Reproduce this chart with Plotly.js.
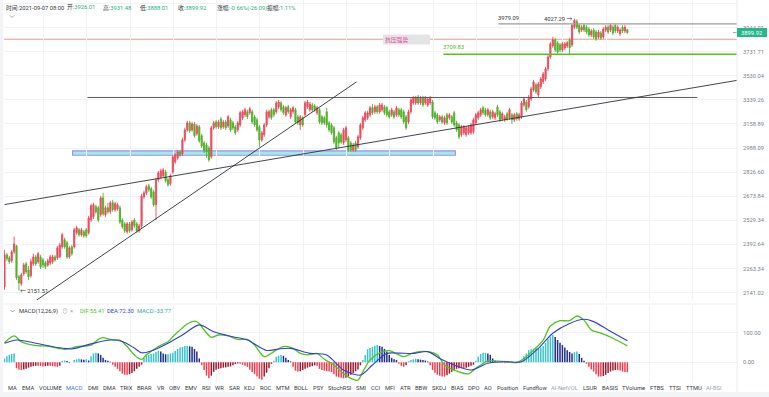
<!DOCTYPE html>
<html><head><meta charset="utf-8">
<script src="https://cdn.plot.ly/plotly-3.0.1.min.js"></script>
<style>html,body{margin:0;padding:0;background:#fff;overflow:hidden}#c{width:769px;height:397px}</style>
</head><body><div id="c"></div>
<script>
// ---------- DATA (4h candles) ----------
const open=[2170,2336,2320,2304,2352,2385,2221,2185,2236,2288,
2256,2226,2288,2325,2299,2325,2309,2293,2282,2293,
2299,2325,2320,2325,2379,2419,2402,2325,2379,2379,
2458,2475,2447,2464,2475,2458,2531,2550,2610,2604,
2562,2664,2562,2604,2580,2634,2592,2598,2604,2531,
2509,2464,2509,2475,2531,2509,2469,2498,2670,2695,
2740,2721,2701,2622,2778,2797,2803,2828,2778,2752,
2828,2895,2922,2962,2949,3045,3116,3167,3116,3159,
3088,3138,3074,3024,3010,2989,2929,3131,3174,3138,
3196,3138,3174,3145,3189,3167,3138,3116,3152,3204,
3226,3249,3241,3249,3211,3189,3138,3045,3081,3152,
3211,3264,3264,3249,3286,3316,3286,3226,3286,3211,
3249,3264,3211,3152,3204,3226,3286,3264,3301,3293,
3241,3264,3211,3204,3249,3167,3152,3131,3060,3095,
3081,3024,3045,3060,3024,2975,3024,2996,3060,3131,
3189,3204,3226,3279,3249,3286,3249,3264,3286,3279,
3249,3226,3249,3226,3264,3264,3249,3211,3174,3249,
3316,3316,3362,3316,3354,3316,3301,3316,3323,3241,
3226,3189,3211,3167,3226,3204,3211,3241,3167,3152,
3081,3095,3081,3095,3095,3102,3167,3204,3226,3279,
3264,3226,3249,3211,3204,3286,3249,3196,3189,3234,
3204,3226,3189,3234,3196,3211,3301,3323,3286,3346,
3417,3457,3378,3441,3481,3505,3587,3687,3782,3835,
3809,3791,3747,3765,3782,3835,3791,3949,4003,3967,
3923,3967,3949,3932,3879,3923,3905,3861,3896,3861,
3923,3949,3923,3949,3967,3914,3888,3949,3914,3926.01];
const high=[2363,2347,2331,2363,2436,2390,2231,2241,2293,2299,
2277,2315,2342,2336,2352,2336,2320,2304,2315,2336,
2336,2336,2385,2402,2458,2430,2413,2385,2390,2486,
2498,2486,2486,2475,2486,2556,2628,2634,2622,2616,
2676,2695,2616,2634,2646,2652,2640,2634,2616,2543,
2520,2520,2520,2531,2543,2520,2509,2689,2708,2746,
2752,2733,2714,2790,2835,2849,2855,2842,2790,2816,
2942,2955,2975,2975,3060,3131,3182,3182,3174,3174,
3159,3152,3088,3038,3024,3003,3145,3182,3189,3189,
3211,3189,3189,3226,3204,3182,3152,3182,3256,3264,
3279,3264,3286,3264,3226,3204,3152,3109,3167,3264,
3264,3279,3279,3331,3338,3331,3301,3293,3301,3279,
3293,3279,3226,3226,3219,3331,3338,3323,3316,3308,
3293,3279,3226,3219,3279,3182,3167,3145,3074,3109,
3095,3131,3145,3074,3038,3024,3038,3081,3167,3219,
3256,3256,3293,3308,3301,3301,3316,3316,3301,3293,
3264,3279,3264,3293,3279,3279,3264,3226,3264,3354,
3370,3370,3378,3370,3370,3370,3362,3370,3338,3256,
3241,3226,3226,3219,3241,3241,3226,3256,3182,3167,
3152,3152,3145,3152,3167,3204,3241,3256,3279,3293,
3279,3279,3264,3264,3249,3301,3264,3249,3226,3249,
3279,3241,3241,3249,3241,3331,3362,3338,3378,3441,
3497,3473,3481,3520,3562,3604,3704,3817,3861,3853,
3826,3809,3817,3817,3826,3853,3975,4027.29,4021,3975,
3967,3975,3967,3949,3932,3940,3923,3923,3914,3949,
3967,3967,3979.09,3967,3975,3967,3940,3967,3967,3931.48];
const low=[2155,2304,2288,2293,2342,2205,2151.51,2175,2226,2236,
2205,2216,2277,2277,2288,2261,2266,2261,2272,2282,
2288,2299,2309,2320,2369,2369,2315,2315,2331,2369,
2447,2436,2436,2430,2430,2447,2520,2537,2568,2520,
2550,2556,2550,2568,2568,2580,2580,2586,2509,2481,
2458,2453,2458,2464,2486,2458,2458,2486,2658,2682,
2701,2658,2610,2531,2765,2784,2790,2759,2733,2740,
2816,2882,2909,2929,2935,3031,3102,3095,3102,3060,
3074,3024,2989,2955,2922,2895,2915,3116,3124,3124,
3116,3124,3116,3131,3102,3116,3081,3102,3138,3189,
3211,3196,3226,3159,3138,3102,2996,3031,3067,3138,
3196,3189,3211,3234,3271,3249,3226,3211,3234,3196,
3234,3159,3152,3116,3138,3211,3271,3249,3249,3249,
3226,3159,3152,3152,3131,3102,3081,3017,2975,2989,
3017,3010,3031,2962,2962,2962,2962,2982,3045,3116,
3174,3189,3211,3226,3234,3234,3234,3249,3226,3211,
3196,3211,3196,3211,3211,3196,3159,3116,3159,3234,
3301,3301,3301,3301,3286,3301,3286,3301,3196,3189,
3159,3174,3159,3152,3152,3189,3159,3138,3102,3052,
3067,3081,3067,3081,3081,3088,3152,3189,3211,3226,
3211,3211,3189,3196,3189,3211,3174,3182,3174,3182,
3189,3159,3174,3182,3182,3196,3286,3249,3271,3331,
3402,3386,3362,3425,3465,3489,3570,3671,3765,3729,
3713,3729,3729,3747,3765,3713,3773,3932,3932,3888,
3905,3905,3888,3861,3861,3844,3826,3844,3835,3844,
3905,3888,3905,3879,3896,3896,3870,3896,3896,3888.01];
const close=[2336,2315,2299,2352,2396,2216,2190,2231,2282,2246,
2221,2299,2325,2288,2342,2272,2282,2272,2304,2325,
2325,2309,2374,2390,2447,2379,2325,2374,2342,2475,
2486,2447,2475,2441,2441,2543,2616,2622,2580,2531,
2664,2568,2604,2580,2634,2592,2628,2622,2520,2492,
2469,2509,2469,2520,2498,2469,2498,2676,2695,2733,
2714,2670,2622,2778,2822,2835,2842,2771,2746,2803,
2929,2942,2962,2942,3045,3116,3167,3109,3159,3074,
3145,3038,3003,2969,2962,2909,3131,3167,3138,3174,
3131,3174,3131,3211,3116,3131,3095,3167,3241,3249,
3264,3211,3271,3174,3152,3116,3045,3095,3152,3249,
3249,3204,3226,3316,3323,3264,3241,3279,3249,3264,
3279,3174,3167,3211,3152,3316,3323,3308,3264,3264,
3279,3174,3167,3167,3152,3116,3095,3031,2989,3024,
3031,3116,3131,2975,2975,3010,2975,3067,3152,3204,
3241,3241,3279,3241,3286,3249,3301,3301,3241,3226,
3211,3264,3211,3279,3226,3211,3174,3131,3249,3338,
3354,3354,3316,3354,3301,3354,3346,3354,3211,3204,
3174,3211,3174,3204,3167,3226,3174,3152,3116,3067,
3138,3138,3131,3138,3152,3189,3226,3241,3264,3241,
3226,3264,3204,3249,3234,3226,3189,3234,3211,3196,
3264,3189,3226,3196,3226,3316,3346,3264,3362,3425,
3481,3402,3465,3505,3545,3587,3687,3800,3835,3747,
3729,3747,3800,3800,3809,3765,3967,4012,3949,3905,
3949,3923,3905,3879,3914,3861,3844,3905,3853,3932,
3949,3905,3967,3896,3914,3949,3923,3914,3949,3899.92];
// MACD histogram, one per candle
const macdHist=[13,20,25,28,30,
-20,-24,-26,-24,-22,-18,-15,-13,-12,-12,-12,-14,-13,-12,-12,-13,-14,-15,-12,
5,6,4,-3,0,8,10,12,10,9,10,6,
20,30,32,30,25,15,8,5,2,
-8,-15,-22,-30,-38,-42,-42,-40,-36,-30,-22,-15,
-8,15,22,25,28,30,35,39,36,30,27,27,30,32,38,45,50,52,55,55,54,52,45,36,13,
-10,-26,-45,-54,-45,-32,-25,-22,-20,-18,-17,-15,-14,-10,
-6,-4,-5,-8,
-12,-15,-25,-33,-40,-48,-55,-59,-48,-35,-20,
-5,5,19,22,25,22,15,8,3,
-15,-28,-31,-30,-26,-22,-18,-15,-13,-10,-12,
-22,-26,-28,-30,-31,-33,-40,-48,-50,-52,-54,-52,-48,-42,-36,-30,-24,
-10,8,25,44,48,52,56,58,55,52,45,36,25,15,10,8,
-5,-12,-15,-10,
4,8,10,12,10,9,8,6,3,
-10,-26,-35,-42,-45,-48,-48,-44,-38,-32,-26,-22,-20,-20,-20,-18,-15,-12,-8,
5,19,28,32,32,30,25,13,5,
2,1,-2,-3,-2,1,2,-2,3,
5,8,20,30,41,44,46,48,48,50,55,65,78,86,92,
85,75,66,58,50,41,35,30,34,36,28,15,5,
-5,-15,-24,-31,-40,-48,-48,-46,-42,-36,-31,-28,-26,-26,-28,-31,-33,-33.77];
// DIF / DEA read at sample candles
const difIdx=[0,4,7,12,19,25,28,30,36,39,41,44,48,51,54,57,59,64,68,70,73,76,79,81,83,86,89,93,97,101,104,108,112,116,120,123,126,130,133,137,140,144,147,149,152,156,160,166,170,176,180,183,187,193,196,201,205,209,213,216,220,224,227,231,235,238,241,244,248,253,259];
const difVal=[66,89,69,58,53,44,48,53,58,77,83,77,75,53,25,10,25,53,69,86,109,129,139,131,109,84,92,89,77,77,58,19,36,53,47,30,25,30,10,-9,-32,-54,-60,-32,8,32,39,19,32,36,25,-9,-26,-39,-20,5,4,2,-1,13,41,75,122,140,140,156,142,109,98,81,55.41];
const deaIdx=[0,5,12,22,28,36,44,49,54,57,61,68,74,81,87,95,101,109,114,119,127,134,141,148,153,159,164,170,176,181,187,194,201,209,215,222,228,235,241,245,251,259];
const deaVal=[64,75,66,50,45,62,75,70,48,32,38,64,92,126,103,86,75,40,45,47,30,25,-26,-43,-9,30,31,30,36,13,-9,-26,-3,2,2,47,98,131,145,137,109,72.30];
const yTicks=[2141.02,2263.34,2392.64,2529.34,2673.84,2826.60,2988.09,3158.89,3339.26,3530.04,3731.71,3944.01];
const macdTicks=[0,100];
const resistLevel=3979.09, supportLevel=3709.83, pressureLevel=3840, neckLevel=3358;
const headerLabels=["时间:","开:","高:","低:","收:","涨幅:","振幅:"];
const headerValues=["2021-09-07 08:00","3926.01","3931.48","3888.01","3899.92","-0.66%(-26.09)","1.11%"];
const tabs=["MA","EMA","VOLUME","MACD","DMI","DMA","TRIX","BRAR","VR","OBV","EMV","RSI","WR","SAR","KDJ","ROC","MTM","BOLL","PSY","StochRSI","SMI","CCI","MFI","ATR","BBW","SKDJ","BIAS","DPO","AO","Position","Fundflow","AI-NetVOL","LSUR","BASIS","TVolume","FTBS","TTSI","TTMU","AI-BSI"];

// ---------- LAYOUT HELPERS ----------
const W=769,H=397,L=4,R=32,PW=W-L-R;
const PX=p=>(p-L)/PW, PY=p=>1-p/H;
const FONT='Roboto, "Noto Sans CJK SC", sans-serif';
const FS=5.8;
const RED='#ec4a5a', GREEN='#52b02a';
const idx=close.map((_,i)=>i);
const last=close.length-1;

const colors=macdHist.map((v,i)=>{const p=i>0?macdHist[i-1]:0;
  if(v>=0) return v>=p?'#38c4cf':'#1f2c8f';
  return v<=p?'#f33c4e':'#a3182d';});

const traces=[
 {type:'candlestick',x:idx,open:open,high:high,low:low,close:close,xaxis:'x',yaxis:'y',
  increasing:{line:{color:RED,width:0.9},fillcolor:RED},
  decreasing:{line:{color:GREEN,width:0.9},fillcolor:GREEN},
  whiskerwidth:0,hoverinfo:'skip',showlegend:false},
 {type:'bar',x:idx,y:macdHist,xaxis:'x2',yaxis:'y2',marker:{color:colors,line:{width:0}},width:0.62,hoverinfo:'skip',showlegend:false},
 {type:'scatter',mode:'lines',x:difIdx,y:difVal,xaxis:'x2',yaxis:'y2',line:{color:'#4fc41c',width:1.3,shape:'spline',smoothing:0.8},hoverinfo:'skip',showlegend:false},
 {type:'scatter',mode:'lines',x:deaIdx,y:deaVal,xaxis:'x2',yaxis:'y2',line:{color:'#2d42d4',width:1.1,shape:'spline',smoothing:0.8},hoverinfo:'skip',showlegend:false}
];

const xr=[-0.2,304.6];
const gridX=[];for(let k=0;k<16;k++)gridX.push(16.2+18*k);
const gridC='#f1f2f4';
const ann=[], shp=[];
const txt=(px,py,t,color,opts)=>ann.push(Object.assign({xref:'paper',yref:'paper',x:PX(px),y:PY(py),text:t,showarrow:false,xanchor:'left',yanchor:'middle',borderpad:0,borderwidth:0,font:{family:FONT,size:FS,color:color}},opts||{}));

// header
const hx=[6,67,103,140,178,217,267];
headerLabels.forEach((l,i)=>txt(hx[i],8,'<span style="color:#33373d">'+l+'</span><span style="color:'+(i===0?'#33373d':'#25b07f')+'">'+headerValues[i]+'</span>','#33373d'));
shp.push({type:'path',xref:'paper',yref:'paper',path:`M ${PX(10)} ${PY(15.5)} L ${PX(12)} ${PY(17.5)} L ${PX(14)} ${PY(15.5)}`,line:{color:'#888',width:0.8}});

// MACD legend
txt(19,311,'MACD(12,26,9)','#33373d');
txt(62,311,'⊙','#9aa0a8');
txt(70,311,'×','#9aa0a8');
txt(80,311,'DIF:'+difVal[difVal.length-1].toFixed(2),'#4fc41c');
txt(107,311,'DEA:'+deaVal[deaVal.length-1].toFixed(2),'#2d42d4');
txt(137,311,'MACD:'+macdHist[last].toFixed(2),'#25b0a4');
shp.push({type:'path',xref:'paper',yref:'paper',path:`M ${PX(10.5)} ${PY(310)} L ${PX(12.5)} ${PY(312)} L ${PX(14.5)} ${PY(310)}`,line:{color:'#888',width:0.8}});

// tabs row
const cv=document.createElement('canvas').getContext('2d');cv.font=FS+'px Roboto';
const widths=tabs.map(t=>cv.measureText(t).width);
const tot=widths.reduce((a,b)=>a+b,0);
const gap=(721.7-8.3-tot)/(tabs.length-1);
let cx=8.3;
tabs.forEach((t,i)=>{let c='#33373d';if(t==='MACD')c='#3a7be0';if(t.startsWith('AI-'))c='#a0a4ab';
  txt(cx,388,t,c);cx+=widths[i]+gap;});

// drawings on the chart
const hiIdx=high.indexOf(Math.max(...high)), loIdx=low.indexOf(Math.min(...low));
ann.push({xref:'x',yref:'y',x:hiIdx-0.4,y:Math.log10(high[hiIdx]),text:high[hiIdx].toFixed(2)+' →',showarrow:false,xanchor:'right',yanchor:'middle',borderpad:0,borderwidth:0,font:{family:FONT,size:FS,color:'#33373d'}});
ann.push({xref:'x',yref:'y',x:loIdx+0.6,y:Math.log10(low[loIdx]),text:'← '+low[loIdx].toFixed(2),showarrow:false,xanchor:'left',yanchor:'middle',borderpad:0,borderwidth:0,font:{family:FONT,size:FS,color:'#33373d'}});
ann.push({xref:'x',yref:'y',x:205.4,y:Math.log10(resistLevel),yshift:6,text:resistLevel.toFixed(2),showarrow:false,xanchor:'left',yanchor:'middle',borderpad:0,borderwidth:0,font:{family:FONT,size:FS,color:'#33373d'}});
ann.push({xref:'x',yref:'y',x:182.5,y:Math.log10(supportLevel),yshift:7,text:supportLevel.toFixed(2),showarrow:false,xanchor:'left',yanchor:'middle',borderpad:0,borderwidth:0,font:{family:FONT,size:FS,color:'#4fb81c'}});
// pressure label box
shp.push({type:'rect',xref:'paper',yref:'paper',x0:PX(383),x1:PX(430),y0:PY(44.5),y1:PY(34.5),fillcolor:'#e4e4e6',line:{width:0},layer:'above'});
txt(385,39.5,'抗压强势','#e4489a');
// current price tag
ann.push({xref:'paper',yref:'y',x:1,y:Math.log10(close[last]),text:close[last].toFixed(2),showarrow:false,xanchor:'left',yanchor:'middle',bgcolor:'#27b78b',borderpad:1.5,borderwidth:0,width:27,font:{family:FONT,size:FS,color:'#ffffff'}});
shp.push({type:'line',xref:'paper',yref:'y',x0:PX(733),x1:1,y0:close[last],y1:close[last],line:{color:'#9aa0a8',width:1}});

shp.push(
 {type:'line',xref:'x',yref:'y',x0:-0.2,x1:304.6,y0:pressureLevel,y1:pressureLevel,line:{color:'#f39a86',width:1.1},layer:'below'},
 {type:'line',xref:'x',yref:'y',x0:205.4,x1:304.6,y0:resistLevel,y1:resistLevel,line:{color:'#9c9c9c',width:1.4}},
 {type:'line',xref:'x',yref:'y',x0:182.5,x1:304.6,y0:supportLevel,y1:supportLevel,line:{color:'#52c41a',width:1.4}},
 {type:'line',xref:'x',yref:'y',x0:34.5,x1:288.1,y0:neckLevel,y1:neckLevel,line:{color:'#55575b',width:1}},
 {type:'rect',xref:'x',yref:'y',x0:28.3,x1:187.5,y0:2939,y1:2969,fillcolor:'rgba(140,234,226,0.85)',line:{color:'#a28ef2',width:1.1},layer:'below'},
 {type:'line',xref:'x',yref:'y',x0:0,x1:304.6,y0:2623,y1:3493,line:{color:'#2f3135',width:0.9}},
 {type:'line',xref:'x',yref:'y',x0:13.3,x1:146.4,y0:2104,y1:3481,line:{color:'#2f3135',width:0.9}},
 // frame pieces
 {type:'rect',xref:'paper',yref:'paper',x0:PX(0),x1:PX(3.3),y0:PY(397),y1:PY(0),fillcolor:'#f3f4f6',line:{width:0}},
 {type:'rect',xref:'paper',yref:'paper',x0:PX(0),x1:PX(769),y0:PY(397),y1:PY(392),fillcolor:'#f3f4f6',line:{width:0}},
 {type:'line',xref:'paper',yref:'paper',x0:1,x1:1,y0:PY(392),y1:PY(0),line:{color:'#ececee',width:1}},
 {type:'line',xref:'paper',yref:'paper',x0:0,x1:1,y0:PY(304),y1:PY(304),line:{color:'#eeeff1',width:1}}
);

const layout={
 width:W,height:H,margin:{l:L,r:R,t:0,b:0},paper_bgcolor:'#fff',plot_bgcolor:'#fff',
 showlegend:false,bargap:0.35,font:{family:FONT,size:FS,color:'#7b7f88'},
 xaxis:{domain:[0,1],range:xr,anchor:'y',showticklabels:false,tickvals:gridX,showgrid:true,gridcolor:gridC,zeroline:false,showline:false,ticks:'',rangeslider:{visible:false},fixedrange:true},
 xaxis2:{domain:[0,1],range:xr,anchor:'y2',matches:'x',showticklabels:false,tickvals:gridX,showgrid:true,gridcolor:gridC,zeroline:false,showline:false,ticks:''},
 yaxis:{type:'log',domain:[1-300/H,1],range:[3.32324,3.62369],side:'right',anchor:'x',
  tickvals:yTicks.concat([4170.3]),ticktext:yTicks.map(v=>v.toFixed(2)).concat(['']),
  tickfont:{family:FONT,size:FS,color:'#7b7f88'},showgrid:true,gridcolor:gridC,zeroline:false,showline:false,ticks:'',ticklabelstandoff:5},
 yaxis2:{domain:[14/H,91/H],range:[-69.7,189.6],side:'right',anchor:'x2',
  tickvals:macdTicks,ticktext:macdTicks.map(v=>v.toFixed(2)),
  tickfont:{family:FONT,size:FS,color:'#7b7f88'},showgrid:true,gridcolor:gridC,zeroline:false,showline:false,ticks:'',ticklabelstandoff:5},
 annotations:ann,shapes:shp
};
Plotly.newPlot('c',traces,layout,{staticPlot:true,displayModeBar:false});
</script></body></html>
